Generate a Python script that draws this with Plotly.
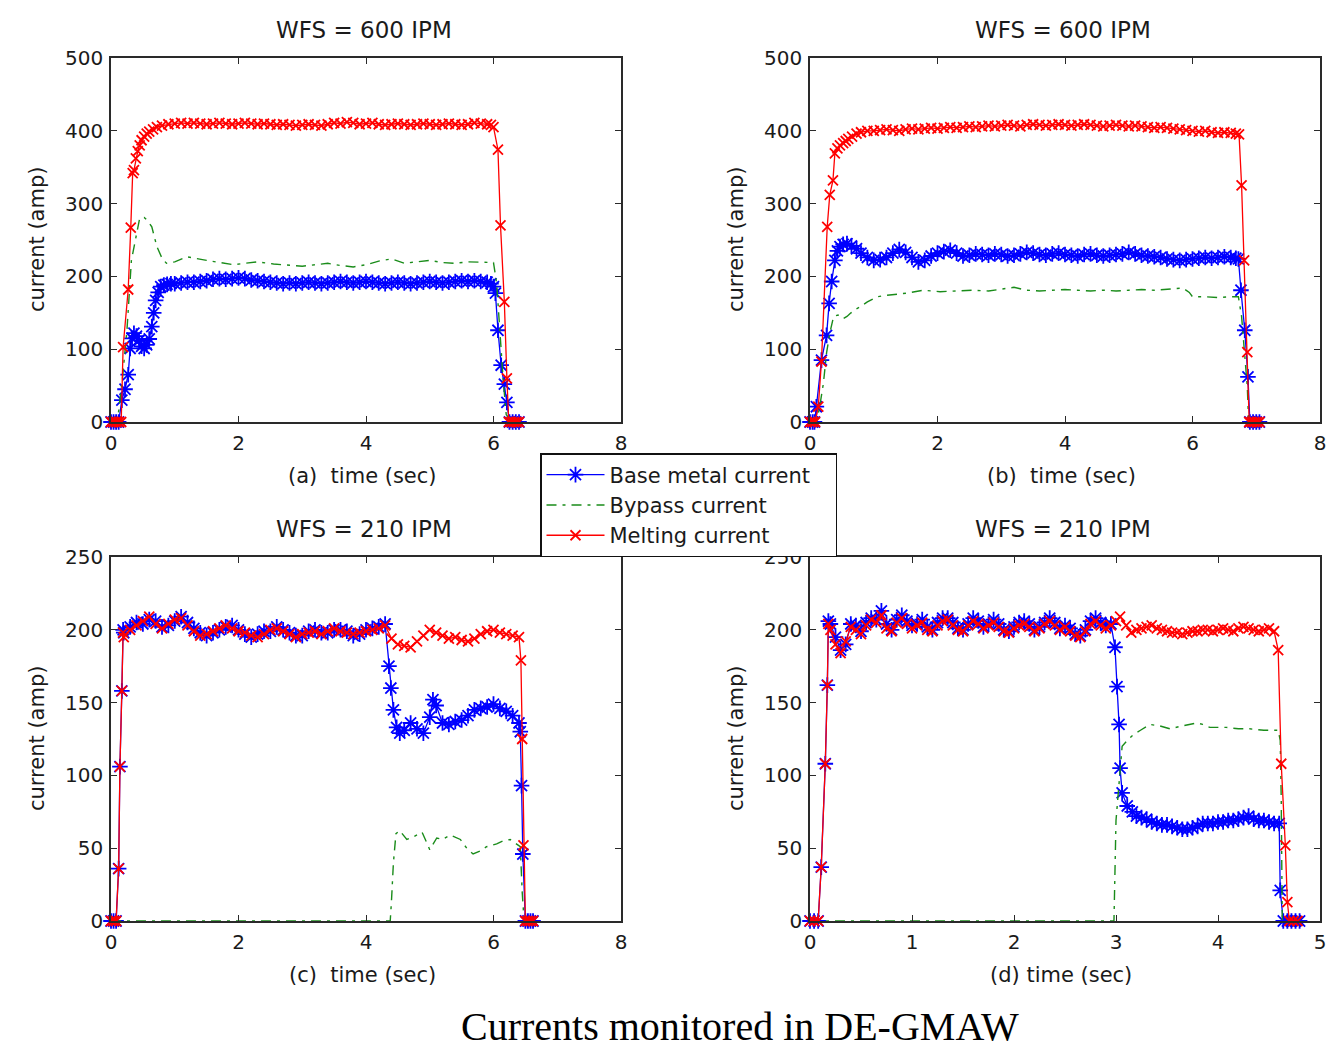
import plotly.graph_objects as go

W, H = 1336, 1049
OFF = 8  # page body margin of the rendered HTML

# ---------------- DATA ----------------
# (a) WFS = 600 IPM
A_PLAT_T = [1.0, 1.1, 1.2, 1.3, 1.4, 1.5, 1.6, 1.7, 1.8, 1.9,
            2.0, 2.1, 2.2, 2.3, 2.4, 2.5, 2.6, 2.7, 2.8, 2.9,
            3.0, 3.1, 3.2, 3.3, 3.4, 3.5, 3.6, 3.7, 3.8, 3.9,
            4.0, 4.1, 4.2, 4.3, 4.4, 4.5, 4.6, 4.7, 4.8, 4.9,
            5.0, 5.1, 5.2, 5.3, 5.4, 5.5, 5.6, 5.7, 5.8, 5.9]

a_melt_t = [0.00, 0.04, 0.08, 0.12, 0.16, 0.19, 0.27, 0.31, 0.34, 0.36, 0.39, 0.42, 0.45,
            0.48, 0.52, 0.56, 0.60, 0.66, 0.72, 0.80, 0.90] + A_PLAT_T + \
           [5.96, 6.00, 6.07, 6.11, 6.17, 6.21, 6.24, 6.28, 6.32, 6.36, 6.40]
a_melt_v = [0, 0, 0, 0, 0, 103, 182, 267, 342, 346, 362, 372, 380,
            387, 392, 396, 399, 402, 405, 407, 409] + \
           [410, 411, 410, 411, 410, 409, 410, 411, 410, 409,
            410, 411, 410, 409, 410, 409, 408, 409, 408, 407,
            408, 409, 408, 407, 409, 411, 410, 412, 411, 409,
            410, 411, 409, 408, 409, 410, 409, 408, 409, 410,
            409, 408, 409, 410, 409, 408, 409, 411, 410, 409] + \
           [408, 405, 374, 270, 165, 60, 0, 0, 0, 0, 0]

a_base_t = [0.00, 0.04, 0.08, 0.12, 0.17, 0.22, 0.27, 0.30, 0.33, 0.36, 0.40, 0.44, 0.48,
            0.52, 0.56, 0.60, 0.64, 0.67, 0.70, 0.74, 0.78, 0.83, 0.88, 0.94] + A_PLAT_T + \
           [5.96, 6.00, 6.03, 6.07, 6.12, 6.17, 6.21, 6.25, 6.30, 6.35, 6.40]
a_base_v = [0, 0, 0, 0, 30, 45, 65, 101, 115, 122, 118, 112, 104,
            101, 106, 114, 131, 150, 167, 178, 186, 188, 189, 190] + \
           [190, 191, 192, 192, 193, 194, 196, 197, 196, 197,
            198, 197, 195, 194, 193, 192, 191, 190, 191, 190,
            191, 192, 191, 190, 191, 192, 193, 192, 191, 192,
            193, 192, 191, 190, 191, 192, 191, 190, 191, 192,
            193, 192, 191, 192, 193, 194, 193, 194, 193, 192] + \
           [190, 186, 177, 126, 78, 52, 27, 0, 0, 0, 0]

a_byp_t = [0.00, 0.10, 0.18, 0.25, 0.32, 0.38, 0.45, 0.52, 0.58, 0.64, 0.72, 0.80, 0.87,
           1.0, 1.19, 1.5, 1.7, 1.92, 2.1, 2.3, 2.55, 2.8, 3.0, 3.2, 3.4, 3.6, 3.8,
           4.0, 4.2, 4.4, 4.6, 4.8, 5.0, 5.2, 5.4, 5.6, 5.8, 6.0, 6.05, 6.1, 6.15, 6.2, 6.3]
a_byp_v = [0, 0, 60, 126, 222, 250, 280, 281, 276, 268, 241, 225, 218,
           220, 227, 222, 219, 216, 218, 220, 217, 215, 214, 216, 218, 215, 213,
           216, 221, 224, 218, 220, 222, 219, 218, 220, 219, 219, 190, 120, 60, 10, 0]

# (b) WFS = 600 IPM
B_PLAT_T = [1.0, 1.1, 1.2, 1.3, 1.4, 1.5, 1.6, 1.7, 1.8, 1.9,
            2.0, 2.1, 2.2, 2.3, 2.4, 2.5, 2.6, 2.7, 2.8, 2.9,
            3.0, 3.1, 3.2, 3.3, 3.4, 3.5, 3.6, 3.7, 3.8, 3.9,
            4.0, 4.1, 4.2, 4.3, 4.4, 4.5, 4.6, 4.7, 4.8, 4.9,
            5.0, 5.1, 5.2, 5.3, 5.4, 5.5, 5.6, 5.7, 5.8, 5.9,
            6.0, 6.1, 6.2, 6.3, 6.4, 6.5, 6.6]

b_melt_t = [0.00, 0.04, 0.08, 0.13, 0.18, 0.27, 0.31, 0.36, 0.39, 0.43, 0.47, 0.52,
            0.56, 0.60, 0.66, 0.73, 0.80, 0.90] + B_PLAT_T + \
           [6.68, 6.73, 6.77, 6.81, 6.86, 6.89, 6.93, 6.97, 7.01, 7.05]
b_melt_v = [0, 0, 0, 21, 83, 268, 312, 332, 369, 376, 380, 383,
            386, 389, 392, 396, 398, 400] + \
           [400, 401, 402, 401, 400, 402, 403, 402, 403, 404,
            403, 404, 405, 404, 405, 406, 405, 406, 407, 406,
            407, 408, 407, 406, 408, 409, 408, 407, 408, 409,
            408, 407, 408, 409, 408, 407, 406, 407, 408, 407,
            406, 407, 406, 405, 404, 405, 404, 403, 402, 401,
            400, 399, 400, 398, 397, 398, 397] + \
           [396, 395, 325, 222, 96, 0, 0, 0, 0, 0]

b_base_t = [0.00, 0.04, 0.07, 0.10, 0.18, 0.26, 0.30, 0.34, 0.39, 0.43, 0.47, 0.52,
            0.58, 0.65, 0.73, 0.80, 0.90] + B_PLAT_T + \
           [6.68, 6.72, 6.76, 6.82, 6.87, 6.90, 6.95, 7.00, 7.05]
b_base_v = [0, 0, 0, 21, 85, 119, 163, 193, 222, 235, 241, 244,
            245, 242, 238, 232, 226] + \
           [222, 223, 226, 232, 237, 233, 226, 220, 222, 228,
            232, 234, 236, 232, 228, 229, 231, 230, 229, 231,
            230, 228, 229, 231, 233, 232, 230, 229, 231, 232,
            230, 229, 228, 230, 231, 229, 228, 229, 230, 231,
            233, 231, 229, 228, 227, 226, 224, 223, 222, 223,
            224, 225, 226, 225, 226, 227, 226] + \
           [225, 224, 181, 126, 62, 0, 0, 0, 0]

b_byp_t = [0.00, 0.10, 0.15, 0.21, 0.26, 0.31, 0.37, 0.44, 0.52, 0.58, 0.63, 0.70, 0.78,
           0.9, 1.05, 1.2, 1.52, 1.78, 2.04, 2.3, 2.56, 2.8, 3.0, 3.2, 3.4, 3.6, 3.8,
           4.0, 4.2, 4.4, 4.6, 4.8, 5.0, 5.2, 5.4, 5.6, 5.85, 5.95, 6.0, 6.2, 6.4, 6.6,
           6.72, 6.77, 6.82, 6.86, 6.88]
b_byp_v = [0, 0, 20, 53, 95, 122, 145, 147, 142, 145, 149, 154, 158,
           165, 172, 174, 177, 181, 179, 180, 181, 180, 182, 185, 181, 180, 181,
           182, 181, 180, 181, 180, 181, 182, 181, 182, 184, 178, 172, 172, 171, 172,
           172, 145, 94, 48, 0]

# (c) WFS = 210 IPM
C_PLAT_T = [0.2, 0.3, 0.4, 0.5, 0.6, 0.7, 0.8, 0.9,
            1.0, 1.1, 1.2, 1.3, 1.4, 1.5, 1.6, 1.7, 1.8, 1.9,
            2.0, 2.1, 2.2, 2.3, 2.4, 2.5, 2.6, 2.7, 2.8, 2.9,
            3.0, 3.1, 3.2, 3.3, 3.4, 3.5, 3.6, 3.7, 3.8, 3.9,
            4.0, 4.1, 4.2, 4.3]
C_RISE_T = [0.00, 0.04, 0.08, 0.12, 0.14, 0.17, 0.19]

c_melt_t = C_RISE_T + C_PLAT_T + \
           [4.4, 4.5, 4.6, 4.7, 4.8, 4.9, 5.0, 5.1, 5.2, 5.3,
            5.4, 5.5, 5.6, 5.7, 5.8, 5.9, 6.0, 6.1, 6.2, 6.3, 6.4] + \
           [6.43, 6.45, 6.47, 6.50, 6.54, 6.58, 6.62]
c_melt_v = [0, 0, 0, 36, 106, 158, 198] + \
           [195, 200, 203, 206, 209, 204, 201, 204,
            207, 208, 203, 199, 196, 197, 199, 201, 203, 201,
            199, 198, 196, 195, 197, 200, 201, 199, 197, 195,
            197, 198, 199, 197, 199, 201, 199, 198, 197, 198,
            199, 200, 201, 203] + \
           [194, 190, 189, 188, 192, 196, 200, 198, 196, 194,
            195, 193, 192, 194, 197, 199, 200, 198, 197, 196, 195] + \
           [179, 125, 52, 0, 0, 0, 0]

c_base_t = C_RISE_T + C_PLAT_T + \
           [4.36, 4.39, 4.43, 4.48, 4.53, 4.6, 4.7, 4.8, 4.9, 5.0,
            5.05, 5.1, 5.2, 5.3, 5.4, 5.5, 5.6, 5.7, 5.8, 5.9,
            6.0, 6.1, 6.2, 6.3, 6.4, 6.42, 6.44, 6.46, 6.50, 6.54, 6.58, 6.62]
c_base_v = [0, 0, 0, 36, 106, 158, 200] + \
           [198, 202, 205, 204, 207, 206, 202, 203,
            206, 209, 205, 201, 198, 196, 198, 200, 202, 203,
            200, 197, 195, 197, 199, 199, 202, 200, 198, 196,
            196, 199, 200, 198, 198, 200, 200, 199, 196, 197,
            200, 201, 202, 204] + \
           [175, 160, 145, 133, 129, 131, 136, 132, 129, 140,
            152, 148, 136, 135, 137, 138, 141, 145, 146, 147,
            149, 146, 144, 141, 136, 130, 93, 46, 0, 0, 0, 0]

c_byp_t = [0.0, 4.38, 4.40, 4.43, 4.47, 4.53, 4.64, 4.75, 4.88, 5.0, 5.11, 5.2, 5.32,
           5.48, 5.58, 5.68, 5.79, 5.89, 6.05, 6.15, 6.26, 6.35, 6.42, 6.45, 6.48]
c_byp_v = [0, 0, 14, 40, 60, 62, 56, 58, 61, 49, 57, 56, 59,
           56, 50, 46, 48, 51, 53, 55, 56, 53, 51, 20, 0]

# (d) WFS = 210 IPM
D_RISE_T = [0.00, 0.04, 0.08, 0.11, 0.15, 0.17, 0.18]
D_PLAT1_T = [0.20, 0.25, 0.30, 0.35, 0.40, 0.45, 0.50, 0.55, 0.60, 0.65,
             0.70, 0.75, 0.80, 0.85, 0.90, 0.95, 1.00, 1.05, 1.10, 1.15,
             1.20, 1.25, 1.30, 1.35, 1.40, 1.45, 1.50, 1.55, 1.60, 1.65,
             1.70, 1.75, 1.80, 1.85, 1.90, 1.95, 2.00, 2.05, 2.10, 2.15,
             2.20, 2.25, 2.30, 2.35, 2.40, 2.45, 2.50, 2.55, 2.60, 2.65,
             2.70, 2.75, 2.80, 2.85, 2.90, 2.95]
D_PLAT2_T = [3.25, 3.30, 3.35, 3.40, 3.45, 3.50, 3.55, 3.60, 3.65, 3.70,
             3.75, 3.80, 3.85, 3.90, 3.95, 4.00, 4.05, 4.10, 4.15, 4.20,
             4.25, 4.30, 4.35, 4.40, 4.45, 4.50, 4.55]

d_melt_t = D_RISE_T + D_PLAT1_T + [3.00, 3.04, 3.10, 3.15, 3.20] + D_PLAT2_T + \
           [4.59, 4.62, 4.66, 4.68, 4.70, 4.74, 4.78]
d_melt_v = [0, 0, 0, 37, 108, 162, 204] + \
           [200, 190, 184, 192, 202, 200, 197, 203, 207, 205,
            210, 201, 199, 205, 208, 204, 201, 203, 205, 200,
            199, 203, 206, 207, 203, 200, 199, 203, 206, 204,
            201, 203, 205, 202, 199, 198, 201, 203, 204, 202,
            199, 201, 204, 206, 203, 200, 202, 199, 196, 195,
            199, 204, 206, 203, 201, 203] + \
           [206, 209, 203, 198, 200] + \
           [201, 202, 203, 201, 200, 199, 198, 198, 197, 198,
            199, 199, 200, 200, 199, 200, 201, 200, 199, 201,
            202, 201, 200, 199, 200, 201, 199] + \
           [186, 108, 52, 13, 0, 0, 0]

d_base_t = D_RISE_T + D_PLAT1_T + [2.99, 3.01, 3.03, 3.04, 3.06, 3.11, 3.16, 3.20] + D_PLAT2_T + \
           [4.60, 4.61, 4.64, 4.68, 4.72, 4.76, 4.80]
d_base_v = [0, 0, 0, 37, 108, 162, 206] + \
           [204, 195, 186, 190, 204, 203, 199, 205, 208, 207,
            213, 204, 200, 207, 210, 206, 203, 204, 207, 202,
            200, 205, 208, 208, 205, 201, 200, 204, 208, 206,
            202, 204, 207, 204, 200, 199, 202, 205, 206, 204,
            200, 202, 205, 208, 205, 201, 203, 201, 197, 196,
            200, 206, 208, 205, 203, 204] + \
           [188, 161, 135, 105, 88, 79, 75, 72] + \
           [71, 70, 68, 67, 66, 66, 65, 64, 63, 63,
            64, 65, 67, 67, 67, 68, 68, 69, 69, 70,
            71, 72, 70, 69, 69, 68, 67] + \
           [67, 21, 0, 0, 0, 0, 0]

d_byp_t = [0.0, 2.98, 3.00, 3.02, 3.04, 3.06, 3.11, 3.17, 3.24, 3.33, 3.43, 3.53,
           3.65, 3.79, 3.85, 3.92, 4.08, 4.2, 4.31, 4.45, 4.59, 4.61, 4.62, 4.63]
d_byp_v = [0, 0, 69, 85, 101, 120, 124, 128, 131, 135, 134, 132,
           134, 136, 135, 133, 133, 132, 132, 131, 131, 124, 83, 0]

TITLES = ["WFS = 600 IPM", "WFS = 600 IPM", "WFS = 210 IPM", "WFS = 210 IPM"]
XLABELS = ["(a)\u00a0\u00a0time (sec)", "(b)\u00a0\u00a0time (sec)",
           "(c)\u00a0\u00a0time (sec)", "(d) time (sec)"]
YLABEL = "current (amp)"
SERIES_NAMES = ["Base metal current", "Bypass current", "Melting current"]
MAIN_TITLE = "Currents monitored in DE-GMAW"

panels = [
    dict(base=(a_base_t, a_base_v), byp=(a_byp_t, a_byp_v), melt=(a_melt_t, a_melt_v),
         xr=[0, 8], xt=[0, 2, 4, 6, 8], yr=[0, 500], yt=[0, 100, 200, 300, 400, 500],
         box=(111, 621, 58, 422)),
    dict(base=(b_base_t, b_base_v), byp=(b_byp_t, b_byp_v), melt=(b_melt_t, b_melt_v),
         xr=[0, 8], xt=[0, 2, 4, 6, 8], yr=[0, 500], yt=[0, 100, 200, 300, 400, 500],
         box=(810, 1320, 58, 422)),
    dict(base=(c_base_t, c_base_v), byp=(c_byp_t, c_byp_v), melt=(c_melt_t, c_melt_v),
         xr=[0, 8], xt=[0, 2, 4, 6, 8], yr=[0, 250], yt=[0, 50, 100, 150, 200, 250],
         box=(111, 621, 557, 921)),
    dict(base=(d_base_t, d_base_v), byp=(d_byp_t, d_byp_v), melt=(d_melt_t, d_melt_v),
         xr=[0, 5], xt=[0, 1, 2, 3, 4, 5], yr=[0, 250], yt=[0, 50, 100, 150, 200, 250],
         box=(810, 1320, 557, 921)),
]

# ---------------- FIGURE ----------------
FONT = "DejaVu Sans, Verdana, sans-serif"
TXT = "#1a1a1a"
AXC = "#2a2a2a"
BLUE = "#0000ff"
GREEN = "#1a8c1a"
RED = "#ff0000"


def px(x):
    return (x - OFF) / W


def py(y):
    return 1 - (y - OFF) / H


fig = go.Figure()
layout_axes = {}
annotations = []
PAD = "\u00a0\u00a0\u00a0"

for i, p in enumerate(panels):
    n = "" if i == 0 else str(i + 1)
    xa, ya = "x" + n, "y" + n
    first = (i == 0)
    bt, bv = p["base"]
    gt, gv = p["byp"]
    mt, mv = p["melt"]
    assert len(bt) == len(bv) and len(gt) == len(gv) and len(mt) == len(mv), i
    fig.add_trace(go.Scatter(
        x=bt, y=bv, xaxis=xa, yaxis=ya, mode="lines+markers", name=SERIES_NAMES[0] + PAD,
        legendgroup="b", showlegend=first, cliponaxis=False,
        line=dict(color=BLUE, width=1.3),
        marker=dict(symbol="asterisk-open", size=13, color=BLUE,
                    line=dict(color=BLUE, width=1.8))))
    fig.add_trace(go.Scatter(
        x=gt, y=gv, xaxis=xa, yaxis=ya, mode="lines", name=SERIES_NAMES[1],
        legendgroup="g", showlegend=first, cliponaxis=False,
        line=dict(color=GREEN, width=1.4, dash="10px,6px,3px,6px")))
    fig.add_trace(go.Scatter(
        x=mt, y=mv, xaxis=xa, yaxis=ya, mode="lines+markers", name=SERIES_NAMES[2],
        legendgroup="m", showlegend=first, cliponaxis=False,
        line=dict(color=RED, width=1.3),
        marker=dict(symbol="x-thin-open", size=10, color=RED,
                    line=dict(color=RED, width=1.8))))

    x0, x1, y0, y1 = p["box"]
    common = dict(showgrid=False, zeroline=False, showline=True, linecolor=AXC,
                  linewidth=1.6, mirror="ticks", ticks="inside", ticklen=6,
                  tickwidth=1.3, tickcolor=AXC, automargin=False,
                  tickfont=dict(family=FONT, size=20, color=TXT))
    layout_axes["xaxis" + n] = dict(common, domain=[px(x0), px(x1)], anchor=ya,
                                    range=p["xr"], tickvals=p["xt"],
                                    ticklabelstandoff=2)
    layout_axes["yaxis" + n] = dict(common, domain=[py(y1), py(y0)], anchor=xa,
                                    range=p["yr"], tickvals=p["yt"],
                                    ticklabelstandoff=2)

    cx = (x0 + x1) / 2
    annotations.append(dict(text=TITLES[i], x=px(cx - 2), y=py(y0 - 28), xref="paper", yref="paper",
                            showarrow=False, font=dict(family=FONT, size=23, color=TXT),
                            xanchor="center", yanchor="middle"))
    annotations.append(dict(text=XLABELS[i], x=px(cx - 4), y=py(y1 + 54), xref="paper", yref="paper",
                            showarrow=False, font=dict(family=FONT, size=21, color=TXT),
                            xanchor="center", yanchor="middle"))
    annotations.append(dict(text=YLABEL, x=px(x0 - 74), y=py((y0 + y1) / 2), xref="paper", yref="paper",
                            showarrow=False, textangle=-90,
                            font=dict(family=FONT, size=21, color=TXT),
                            xanchor="center", yanchor="middle"))

annotations.append(dict(text=MAIN_TITLE, x=px(740), y=py(1026), xref="paper", yref="paper",
                        showarrow=False,
                        font=dict(family="Liberation Serif, Times New Roman, serif", size=40, color="#000"),
                        xanchor="center", yanchor="middle"))

fig.update_layout(
    width=W, height=H,
    margin=dict(l=0, r=0, t=0, b=0, pad=0, autoexpand=False),
    paper_bgcolor="white",
    plot_bgcolor="white",
    annotations=annotations,
    legend=dict(x=px(540), y=py(453), xanchor="left", yanchor="top",
                bgcolor="white", bordercolor="#111", borderwidth=1.5,
                font=dict(family=FONT, size=21, color=TXT),
                itemwidth=58, tracegroupgap=0),
    showlegend=True,
    **layout_axes,
)

fig.write_html("out.html")
